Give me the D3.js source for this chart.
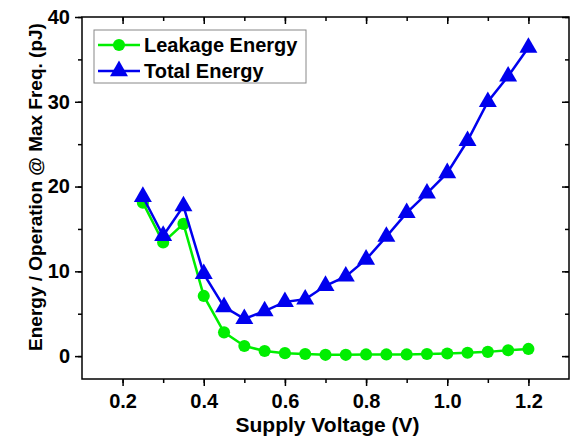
<!DOCTYPE html>
<html>
<head>
<meta charset="utf-8">
<script src="https://cdn.jsdelivr.net/npm/d3@7"></script>
<style>
  body { margin: 0; background: #fff; }
  svg { font-family: "Liberation Sans", Arial, sans-serif; font-weight: bold; }
</style>
</head>
<body>
<svg id="chart" width="571" height="436"></svg>
<script>
let voltage = [0.25, 0.30, 0.35, 0.40, 0.45, 0.50, 0.55, 0.60, 0.65, 0.70,
  0.75, 0.80, 0.85, 0.90, 0.95, 1.00, 1.05, 1.10, 1.15, 1.20];
let leakage_energy = [18.1, 13.4, 15.6, 7.1, 2.8, 1.2, 0.6, 0.35, 0.25, 0.15,
  0.15, 0.2, 0.2, 0.2, 0.25, 0.3, 0.4, 0.5, 0.7, 0.85];
let total_energy = [18.8, 14.2, 17.7, 9.7, 5.8, 4.4, 5.3, 6.4, 6.7, 8.3,
  9.4, 11.4, 14.1, 16.9, 19.2, 21.6, 25.4, 30.0, 33.0, 36.4];
let x_ticks = [0.2, 0.4, 0.6, 0.8, 1.0, 1.2];
let y_ticks = [0, 10, 20, 30, 40];

let svg = d3.select("#chart");

let padding = {
  left: 82,
  right: 2,
  top: 17,
  bottom: 57,
};
let svg_size = { width: 571, height: 436 };
let plot_w = svg_size.width - padding.left - padding.right;
let plot_h = svg_size.height - padding.top - padding.bottom;

let scale_x = d3.scaleLinear()
  .domain([0.1, 1.3])
  .range([0, plot_w]);
let scale_y = d3.scaleLinear()
  .domain([-2.7, 40])
  .range([plot_h, 0]);

let g = svg.append("g")
  .attr("transform", "translate(" + padding.left + "," + padding.top + ")");

// frame
g.append("rect")
  .attr("width", plot_w)
  .attr("height", plot_h)
  .attr("fill", "none")
  .attr("stroke", "black")
  .attr("stroke-width", 1.5);

let minor_x = d3.range(0.2, 1.25, 0.1);
let minor_y = d3.range(0, 41, 5);

// bottom axis
g.append("g")
  .attr("transform", "translate(0," + plot_h + ")")
  .call(d3.axisBottom(scale_x).tickValues(x_ticks).tickFormat(d3.format(".1f")).tickSize(7).tickPadding(8));
g.append("g")
  .attr("transform", "translate(0," + plot_h + ")")
  .call(d3.axisBottom(scale_x).tickValues(minor_x).tickFormat("").tickSize(4));

// left axis
g.append("g")
  .call(d3.axisLeft(scale_y).tickValues(y_ticks).tickSize(7).tickPadding(5));
g.append("g")
  .call(d3.axisLeft(scale_y).tickValues(minor_y).tickFormat("").tickSize(4));

// top and right inner ticks
g.append("g")
  .call(d3.axisBottom(scale_x).tickValues(x_ticks).tickFormat("").tickSize(7));
g.append("g")
  .call(d3.axisBottom(scale_x).tickValues(minor_x).tickFormat("").tickSize(4));
g.append("g")
  .attr("transform", "translate(" + plot_w + ",0)")
  .call(d3.axisLeft(scale_y).tickValues(y_ticks).tickFormat("").tickSize(7));
g.append("g")
  .attr("transform", "translate(" + plot_w + ",0)")
  .call(d3.axisLeft(scale_y).tickValues(minor_y).tickFormat("").tickSize(4));

g.selectAll(".domain").remove();
g.selectAll(".tick line").attr("stroke", "black").attr("stroke-width", 1.5);
g.selectAll(".tick text")
  .attr("fill", "black")
  .style("font-family", "'Liberation Sans', Arial, sans-serif")
  .style("font-weight", "bold")
  .style("font-size", "20px");

// axis titles
svg.append("text")
  .attr("x", padding.left + scale_x(0.7) + 2)
  .attr("y", 432)
  .attr("text-anchor", "middle")
  .style("font-size", "21px")
  .text("Supply Voltage (V)");
svg.append("text")
  .attr("transform", "translate(42,187) rotate(-90)")
  .attr("text-anchor", "middle")
  .style("font-size", "19px")
  .text("Energy / Operation @ Max Freq. (pJ)");

let series = [
  { name: "Leakage Energy", values: leakage_energy, color: "#00ee00", marker: d3.symbolCircle, size: 115 },
  { name: "Total Energy", values: total_energy, color: "#0000ee", marker: d3.symbolTriangle, size: 140 },
];

let line = d3.line()
  .x(d => scale_x(d[0]))
  .y(d => scale_y(d[1]));

series.forEach(s => {
  let pts = voltage.map((v, i) => [v, s.values[i]]);
  g.append("path")
    .datum(pts)
    .attr("d", line)
    .attr("fill", "none")
    .attr("stroke", s.color)
    .attr("stroke-width", 2.5);
  g.selectAll(null)
    .data(pts)
    .enter()
    .append("path")
    .attr("d", d3.symbol().type(s.marker).size(s.size))
    .attr("transform", d => "translate(" + scale_x(d[0]) + "," + scale_y(d[1]) + ")")
    .attr("fill", s.color);
});

// legend
let legend = svg.append("g")
  .attr("transform", "translate(94,30)");
legend.append("rect")
  .attr("width", 212)
  .attr("height", 53)
  .attr("fill", "white")
  .attr("stroke", "#888")
  .attr("stroke-width", 1);
series.forEach((s, i) => {
  let y = 15 + i * 26;
  legend.append("line")
    .attr("x1", 4).attr("x2", 46)
    .attr("y1", y).attr("y2", y)
    .attr("stroke", s.color)
    .attr("stroke-width", 2.5);
  legend.append("path")
    .attr("d", d3.symbol().type(s.marker).size(s.size))
    .attr("transform", "translate(25," + y + ")")
    .attr("fill", s.color);
  legend.append("text")
    .attr("x", 50)
    .attr("y", y + 7)
    .style("font-size", "20px")
    .text(s.name);
});
</script>
</body>
</html>
